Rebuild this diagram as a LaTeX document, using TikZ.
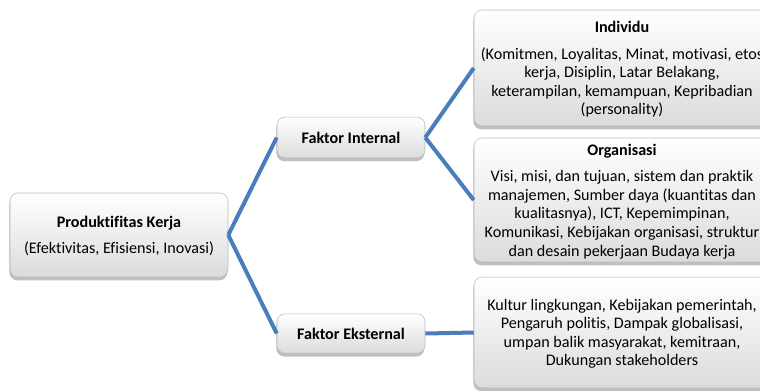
\documentclass[tikz,border=0pt]{standalone}
\usepackage{fontspec}
\setmainfont{Carlito}[Ligatures=NoCommon]
\usetikzlibrary{shadows}
\definecolor{garisbiru}{RGB}{74,126,187}
\begin{document}
\begin{tikzpicture}[x=0.75pt,y=-0.75pt,
    kotak/.style={draw=gray!55, line width=0.4pt, rounded corners=6pt,
      top color=white, bottom color=gray!28, align=center, inner sep=0pt,
      drop shadow={shadow xshift=-0.5pt, shadow yshift=-2.5pt, opacity=0.5},
      font=\fontsize{12.1}{13.9}\selectfont, text depth=0pt},
    hubung/.style={draw=garisbiru, line width=3pt}]
    \useasboundingbox (0,0) rectangle (760,390);

    % kotak utama
    \node[kotak, minimum width=163.5pt, minimum height=63pt] (prod) at (119,235)
      {\textbf{Produktifitas Kerja}\\[6pt](Efektivitas, Efisiensi, Inovasi)};

    % faktor
    \node[kotak, minimum width=111pt, minimum height=30.5pt] (internal) at (351,137.5)
      {\textbf{Faktor Internal}};
    \node[kotak, minimum width=111pt, minimum height=29.5pt] (eksternal) at (351,333.5)
      {\textbf{Faktor Eksternal}};

    % rincian
    \node[kotak, minimum width=222pt, minimum height=87pt] (individu) at (622,68)
      {\textbf{Individu}\\[6pt](Komitmen, Loyalitas, Minat, motivasi, etos\\
       kerja, Disiplin, Latar Belakang,\\
       keterampilan, kemampuan, Kepribadian\\
       (personality)};
    \node[kotak, minimum width=222pt, minimum height=93pt] (organisasi) at (622,200)
      {\textbf{Organisasi}\\[6pt]Visi, misi, dan tujuan, sistem dan praktik\\
       manajemen, Sumber daya (kuantitas dan\\
       kualitasnya), ICT, Kepemimpinan,\\
       Komunikasi, Kebijakan organisasi, struktur\\
       dan desain pekerjaan Budaya kerja};
    \node[kotak, minimum width=222pt, minimum height=83pt] (lingkungan) at (622,332.5)
      {Kultur lingkungan, Kebijakan pemerintah,\\
       Pengaruh politis, Dampak globalisasi,\\
       umpan balik masyarakat, kemitraan,\\
       Dukungan stakeholders};

    \draw[hubung] (prod.east) -- (internal.west);
    \draw[hubung] (prod.east) -- (eksternal.west);
    \draw[hubung] (internal.east) -- (individu.west);
    \draw[hubung] (internal.east) -- (organisasi.west);
    \draw[hubung] (eksternal.east) -- (lingkungan.west);
\end{tikzpicture}
\end{document}
